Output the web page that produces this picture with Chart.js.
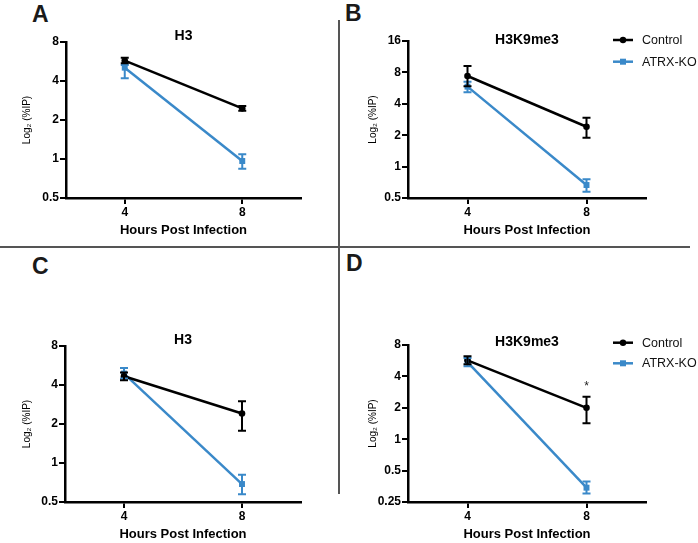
<!DOCTYPE html>
<html>
<head>
<meta charset="utf-8">
<script src="https://cdn.jsdelivr.net/npm/chart.js@4.4.0/dist/chart.umd.min.js"></script>
<style>
  body { margin: 0; background: #fff; width: 698px; height: 543px; position: relative; overflow: hidden;
         font-family: 'Liberation Sans', Arial, Helvetica, sans-serif; }
  canvas { position: absolute; }
  .letter { position: absolute; font-weight: bold; font-size: 23px; line-height: 1; color: #1a1a1a; }
  .rule { position: absolute; background: #555; }
</style>
</head>
<body>
<div class="rule" style="left:0;top:246px;width:690px;height:1.5px"></div>
<div class="rule" style="left:338px;top:20px;width:1.5px;height:474px"></div>
<div class="letter" style="left:32px;top:3px">A</div>
<div class="letter" style="left:345px;top:2px">B</div>
<div class="letter" style="left:32px;top:255px">C</div>
<div class="letter" style="left:346px;top:252px">D</div>

<canvas id="chart-a" width="338" height="246" style="left:0;top:0"></canvas>
<canvas id="chart-b" width="358" height="246" style="left:340px;top:0"></canvas>
<canvas id="chart-c" width="338" height="295" style="left:0;top:248px"></canvas>
<canvas id="chart-d" width="358" height="295" style="left:340px;top:248px"></canvas>

<script>
// Chart data (values on the log2 axis, error bar ends kept as low/high)
const hours = [4, 8];
const seriesNames = ['Control', 'ATRX-KO'];

// A - H3
const aControl = [5.74, 2.46];
const aControlLow = [5.48, 2.36];
const aControlHigh = [6.05, 2.57];
const aKO = [5.07, 0.965];
const aKOLow = [4.2, 0.84];
const aKOHigh = [5.31, 1.09];
const aTicks = [0.5, 1, 2, 4, 8];

// B - H3K9me3
const bControl = [7.39, 2.41];
const bControlLow = [5.9, 1.89];
const bControlHigh = [9.2, 2.94];
const bKO = [5.84, 0.666];
const bKOLow = [5.16, 0.574];
const bKOHigh = [6.51, 0.757];
const bTicks = [0.5, 1, 2, 4, 8, 16];

// C - H3
const cControl = [4.67, 2.41];
const cControlLow = [4.35, 1.77];
const cControlHigh = [5.0, 2.99];
const cKO = [4.9, 0.688];
const cKOLow = [4.48, 0.573];
const cKOHigh = [5.42, 0.81];
const cTicks = [0.5, 1, 2, 4, 8];

// D - H3K9me3
const dControl = [5.7, 2.0];
const dControlLow = [5.22, 1.42];
const dControlHigh = [6.23, 2.55];
const dKO = [5.49, 0.343];
const dKOLow = [5.0, 0.302];
const dKOHigh = [6.0, 0.394];
const dTicks = [0.25, 0.5, 1, 2, 4, 8];

const FONT = "'Liberation Sans', Arial, Helvetica, sans-serif";
const BLACK = '#000000';
const BLUE = '#3a89c9';

// vertical error bars with caps, drawn from errLow / errHigh of each dataset
const errorBars = {
    id: 'errorBars',
    afterDatasetsDraw(chart) {
        const ctx = chart.ctx;
        const xs = chart.scales.x, ys = chart.scales.y;
        for (let d = chart.data.datasets.length - 1; d >= 0; d--) {
            const ds = chart.data.datasets[d];
            ctx.save();
            ctx.strokeStyle = ds.borderColor;
            ctx.lineWidth = 2;
            ds.data.forEach((p, i) => {
                const px = xs.getPixelForValue(p.x);
                const y1 = ys.getPixelForValue(ds.errLow[i]);
                const y2 = ys.getPixelForValue(ds.errHigh[i]);
                ctx.beginPath();
                ctx.moveTo(px, y1); ctx.lineTo(px, y2);
                ctx.moveTo(px - 4, y1); ctx.lineTo(px + 4, y1);
                ctx.moveTo(px - 4, y2); ctx.lineTo(px + 4, y2);
                ctx.stroke();
            });
            ctx.restore();
        }
    }
};

// panel title, optional legend and significance star
const panelDecor = {
    id: 'panelDecor',
    afterDraw(chart, args, opts) {
        const ctx = chart.ctx;
        const area = chart.chartArea;
        ctx.save();
        ctx.fillStyle = BLACK;
        ctx.font = `bold 14px ${FONT}`;
        ctx.textAlign = 'center';
        ctx.textBaseline = 'middle';
        ctx.fillText(opts.title, (area.left + area.right) / 2, opts.titleY);

        if (opts.legend) {
            const lg = opts.legend;
            chart.data.datasets.forEach((ds, i) => {
                const y = lg.y + i * lg.gap;
                ctx.strokeStyle = ds.borderColor;
                ctx.lineWidth = 2.5;
                ctx.beginPath();
                ctx.moveTo(lg.x, y); ctx.lineTo(lg.x + 20, y);
                ctx.stroke();
                ctx.fillStyle = ds.borderColor;
                if (ds.pointStyle === 'rect') {
                    ctx.fillRect(lg.x + 7, y - 3, 6, 6);
                } else {
                    ctx.beginPath();
                    ctx.arc(lg.x + 10, y, 3.2, 0, Math.PI * 2);
                    ctx.fill();
                }
                ctx.fillStyle = '#111';
                ctx.font = `12.5px ${FONT}`;
                ctx.textAlign = 'left';
                ctx.fillText(ds.label, lg.x + 29, y + 0.5);
            });
        }

        if (opts.star) {
            const ds = chart.data.datasets[0];
            const px = chart.scales.x.getPixelForValue(hours[1]);
            const py = chart.scales.y.getPixelForValue(ds.errHigh[1]);
            ctx.fillStyle = '#222';
            ctx.font = `12px ${FONT}`;
            ctx.textAlign = 'center';
            ctx.textBaseline = 'alphabetic';
            ctx.fillText('*', px, py - 7);
        }
        ctx.restore();
    }
};

function makeSet(label, vals, low, high, color, style, radius) {
    return {
        label: label,
        data: hours.map((h, i) => ({ x: h, y: vals[i] })),
        errLow: low,
        errHigh: high,
        borderColor: color,
        backgroundColor: color,
        borderWidth: 2.5,
        pointStyle: style,
        pointRadius: radius,
        pointBorderWidth: 0,
        tension: 0
    };
}

function makePanel(id, p) {
    const tickFont = { family: FONT, size: 12, weight: 'bold' };
    new Chart(document.getElementById(id), {
        type: 'line',
        data: {
            datasets: [
                makeSet(seriesNames[0], p.control, p.controlLow, p.controlHigh, BLACK, 'circle', 3.3),
                makeSet(seriesNames[1], p.ko, p.koLow, p.koHigh, BLUE, 'rect', 4.2)
            ]
        },
        options: {
            responsive: false,
            animation: false,
            devicePixelRatio: 1,
            layout: { padding: p.padding },
            plugins: {
                legend: { display: false },
                tooltip: { enabled: false },
                panelDecor: { title: p.title, titleY: p.titleY, legend: p.legend, star: p.star }
            },
            scales: {
                x: {
                    type: 'linear',
                    min: 2, max: 10,
                    afterBuildTicks: s => { s.ticks = hours.map(v => ({ value: v })); },
                    afterFit: s => { s.height = 40; },
                    grid: { display: true, drawOnChartArea: false, drawTicks: true, tickLength: 6, color: BLACK, lineWidth: 2 },
                    border: { display: true, color: BLACK, width: 2.5 },
                    ticks: { color: BLACK, font: tickFont, padding: 1, maxRotation: 0 },
                    title: { display: true, text: 'Hours Post Infection', color: BLACK,
                             font: { family: FONT, size: 13, weight: 'bold' }, padding: 0 }
                },
                y: {
                    type: 'logarithmic',
                    min: p.ticks[0], max: p.ticks[p.ticks.length - 1],
                    afterBuildTicks: s => { s.ticks = p.ticks.map(v => ({ value: v })); },
                    afterFit: s => { s.width = p.yWidth; },
                    grid: { display: true, drawOnChartArea: false, drawTicks: true, tickLength: 6, color: BLACK, lineWidth: 2 },
                    border: { display: true, color: BLACK, width: 2.5 },
                    ticks: { color: BLACK, font: tickFont, padding: 1, callback: v => String(v) },
                    title: { display: true, text: 'Log₂ (%IP)', color: BLACK,
                             font: { family: FONT, size: 10 }, padding: 0 }
                }
            }
        },
        plugins: [errorBars, panelDecor]
    });
}

makePanel('chart-a', {
    title: 'H3', titleY: 36.5, ticks: aTicks, yWidth: 45,
    padding: { left: 21, top: 42, right: 37, bottom: 8 },
    control: aControl, controlLow: aControlLow, controlHigh: aControlHigh,
    ko: aKO, koLow: aKOLow, koHigh: aKOHigh
});

makePanel('chart-b', {
    title: 'H3K9me3', titleY: 40, ticks: bTicks, yWidth: 41,
    padding: { left: 27, top: 41, right: 52, bottom: 8 },
    legend: { x: 273, y: 40, gap: 21.7 },
    control: bControl, controlLow: bControlLow, controlHigh: bControlHigh,
    ko: bKO, koLow: bKOLow, koHigh: bKOHigh
});

makePanel('chart-c', {
    title: 'H3', titleY: 92, ticks: cTicks, yWidth: 44,
    padding: { left: 21, top: 98, right: 37, bottom: 1 },
    control: cControl, controlLow: cControlLow, controlHigh: cControlHigh,
    ko: cKO, koLow: cKOLow, koHigh: cKOHigh
});

makePanel('chart-d', {
    title: 'H3K9me3', titleY: 93.7, ticks: dTicks, yWidth: 41,
    padding: { left: 27, top: 97, right: 52, bottom: 1 },
    legend: { x: 273, y: 94.7, gap: 20.6 },
    star: true,
    control: dControl, controlLow: dControlLow, controlHigh: dControlHigh,
    ko: dKO, koLow: dKOLow, koHigh: dKOHigh
});
</script>
</body>
</html>
